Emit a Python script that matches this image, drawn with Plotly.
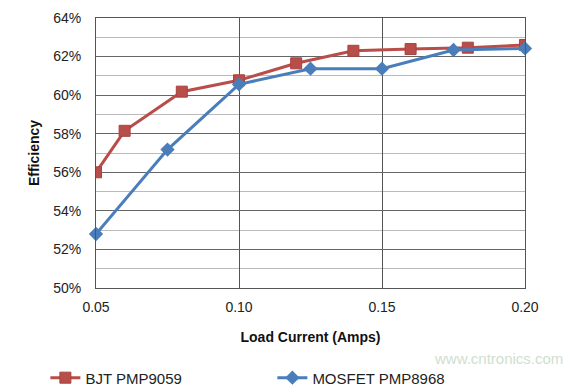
import plotly.graph_objects as go

bjt_x = [0.05, 0.06, 0.08, 0.10, 0.12, 0.14, 0.16, 0.18, 0.20]
bjt_y = [56.0, 58.15, 60.18, 60.77, 61.65, 62.3, 62.39, 62.46, 62.6]
mos_x = [0.05, 0.075, 0.10, 0.125, 0.15, 0.175, 0.20]
mos_y = [52.8, 57.18, 60.56, 61.37, 61.37, 62.34, 62.42]
y_ticks = [50, 52, 54, 56, 58, 60, 62, 64]
y_labels = ["50%", "52%", "54%", "56%", "58%", "60%", "62%", "64%"]
x_ticks = [0.05, 0.10, 0.15, 0.20]
x_labels = ["0.05", "0.10", "0.15", "0.20"]

RED = "#B94D4A"
BLUE = "#4A7EBB"
FONT = "Liberation Sans, Arial, sans-serif"

fig = go.Figure()
fig.add_trace(go.Scatter(
    x=bjt_x, y=bjt_y, name="BJT PMP9059", mode="lines+markers",
    line=dict(color=RED, width=3),
    marker=dict(symbol="square", size=11, color=RED, line=dict(color="#A8423F", width=1)),
    cliponaxis=True,
))
fig.add_trace(go.Scatter(
    x=mos_x, y=mos_y, name="MOSFET PMP8968", mode="lines+markers",
    line=dict(color=BLUE, width=3),
    marker=dict(symbol="diamond", size=11, color=BLUE),
    cliponaxis=False,
))

fig.update_layout(
    width=577, height=381,
    margin=dict(l=88, r=60, t=10, b=101, autoexpand=False),
    paper_bgcolor="white", plot_bgcolor="white",
    font=dict(family=FONT, size=14, color="#222"),
    showlegend=True,
    legend=dict(orientation="h", x=-0.118, xanchor="left", y=-0.333, yanchor="middle",
                entrywidth=182, entrywidthmode="pixels",
                font=dict(size=15, color="#222"), itemwidth=30),
    xaxis=dict(range=[0.05, 0.20], tickvals=x_ticks, ticktext=x_labels,
               showgrid=True, gridcolor="#555", gridwidth=1,
               showline=True, linecolor="#555", linewidth=1, mirror=True,
               zeroline=False, ticks="outside", ticklen=6, tickcolor="white",
               title=dict(text="<b>Load Current (Amps)</b>", font=dict(size=14, color="#111"), standoff=18)),
    yaxis=dict(range=[50, 64], tickvals=y_ticks, ticktext=y_labels,
               showgrid=True, gridcolor="#666", gridwidth=1,
               minor=dict(dtick=1, showgrid=True, gridcolor="#bbb", gridwidth=1),
               showline=True, linecolor="#555", linewidth=1, mirror=True,
               zeroline=False, ticks="outside", ticklen=11, tickcolor="white",
               title=dict(text="<b>Efficiency</b>", font=dict(size=14, color="#111"), standoff=10)),
)

fig.add_annotation(text="www.cntronics.com", xref="paper", yref="paper",
                   x=1.093, y=-0.26, xanchor="right", yanchor="middle", showarrow=False,
                   font=dict(size=15, color="#cfe0cf", family=FONT))

fig.write_html("out.html")
